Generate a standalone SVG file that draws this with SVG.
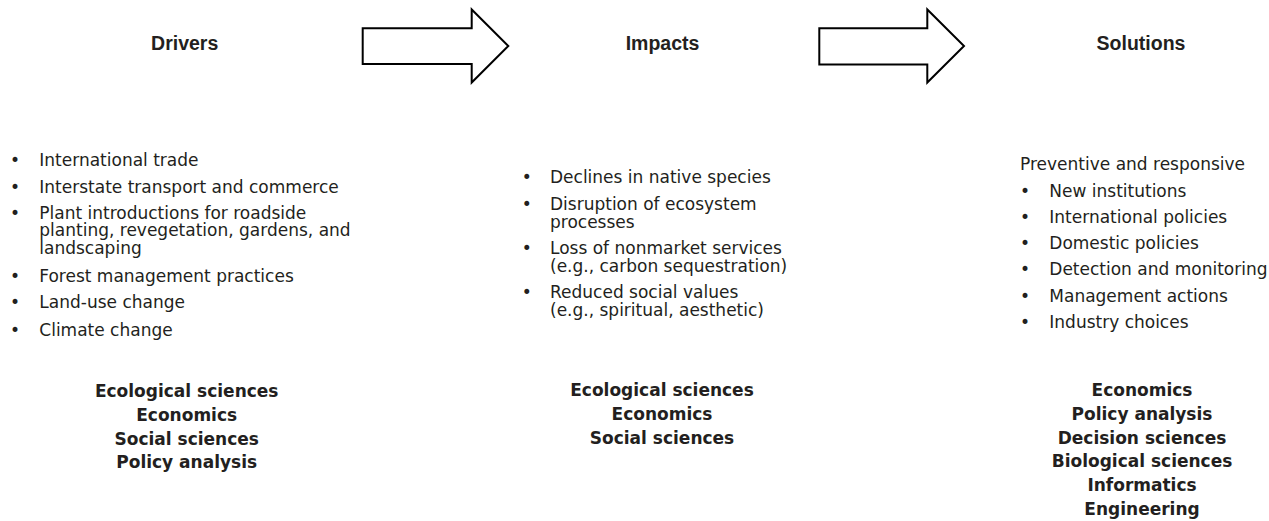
<svg xmlns="http://www.w3.org/2000/svg" width="1269" height="521" viewBox="0 0 1269 521">
<style>
  .title { font-family: "Liberation Sans", Arial, sans-serif; font-weight: bold; font-size: 19.5px; fill: #231f20; text-anchor: middle; }
  .item { font-family: "DejaVu Sans", Verdana, sans-serif; font-size: 17px; fill: #231f20; }
  .bul { font-family: "DejaVu Sans", Verdana, sans-serif; font-size: 17px; fill: #231f20; text-anchor: middle; }
  .disc { font-family: "DejaVu Sans", Verdana, sans-serif; font-weight: bold; font-size: 17px; fill: #231f20; text-anchor: middle; }
  .arrow { fill: #ffffff; stroke: #000000; stroke-width: 2; stroke-linejoin: miter; }
</style>
<rect width="1269" height="521" fill="#ffffff"/>
<g id="connectors">
  <polygon class="arrow" points="362.7,28.3 471.7,28.3 471.7,9.5 508.3,46 471.7,82.5 471.7,64 362.7,64"/>
  <polygon class="arrow" points="819.3,28.3 927.3,28.3 927.3,9.5 964,46 927.3,82.5 927.3,64.5 819.3,64.5"/>
</g>
<g id="drivers">
  <text class="title" x="184.7" y="50">Drivers</text>
  <g class="list">
    <text class="bul" x="15" y="166">•</text><text class="item" x="39.3" y="166">International trade</text>
    <text class="bul" x="15" y="192.7">•</text><text class="item" x="39.3" y="192.7">Interstate transport and commerce</text>
    <text class="bul" x="15" y="219.3">•</text><text class="item" x="39.3" y="219.3">Plant introductions for roadside<tspan x="39.3" dy="17.1">planting, revegetation, gardens, and</tspan><tspan x="39.3" dy="17.1">landscaping</tspan></text>
    <text class="bul" x="15" y="281.7">•</text><text class="item" x="39.3" y="281.7">Forest management practices</text>
    <text class="bul" x="15" y="308.3">•</text><text class="item" x="39.3" y="308.3">Land-use change</text>
    <text class="bul" x="15" y="335.7">•</text><text class="item" x="39.3" y="335.7">Climate change</text>
  </g>
  <text class="disc" x="186.7" y="396.7">Ecological sciences</text>
  <text class="disc" x="186.7" y="420.7">Economics</text>
  <text class="disc" x="186.7" y="444.7">Social sciences</text>
  <text class="disc" x="186.7" y="468.3">Policy analysis</text>
</g>
<g id="impacts">
  <text class="title" x="662.5" y="50">Impacts</text>
  <g class="list">
    <text class="bul" x="526.7" y="182.7">•</text><text class="item" x="550" y="182.7">Declines in native species</text>
    <text class="bul" x="526.7" y="210">•</text><text class="item" x="550" y="210">Disruption of ecosystem<tspan x="550" dy="17.5">processes</tspan></text>
    <text class="bul" x="526.7" y="254.3">•</text><text class="item" x="550" y="254.3">Loss of nonmarket services<tspan x="550" dy="17.4">(e.g., carbon sequestration)</tspan></text>
    <text class="bul" x="526.7" y="298.3">•</text><text class="item" x="550" y="298.3">Reduced social values<tspan x="550" dy="17.5">(e.g., spiritual, aesthetic)</tspan></text>
  </g>
  <text class="disc" x="662" y="396.3">Ecological sciences</text>
  <text class="disc" x="662" y="420">Economics</text>
  <text class="disc" x="662" y="443.5">Social sciences</text>
</g>
<g id="solutions">
  <text class="title" x="1141" y="50">Solutions</text>
  <text class="item" x="1020" y="170">Preventive and responsive</text>
  <g class="list">
    <text class="bul" x="1025" y="196.7">•</text><text class="item" x="1049.3" y="196.7">New institutions</text>
    <text class="bul" x="1025" y="222.9">•</text><text class="item" x="1049.3" y="222.9">International policies</text>
    <text class="bul" x="1025" y="249.3">•</text><text class="item" x="1049.3" y="249.3">Domestic policies</text>
    <text class="bul" x="1025" y="275.3">•</text><text class="item" x="1049.3" y="275.3">Detection and monitoring</text>
    <text class="bul" x="1025" y="301.7">•</text><text class="item" x="1049.3" y="301.7">Management actions</text>
    <text class="bul" x="1025" y="328.3">•</text><text class="item" x="1049.3" y="328.3">Industry choices</text>
  </g>
  <text class="disc" x="1142" y="396.3">Economics</text>
  <text class="disc" x="1142" y="420">Policy analysis</text>
  <text class="disc" x="1142" y="443.5">Decision sciences</text>
  <text class="disc" x="1142" y="467">Biological sciences</text>
  <text class="disc" x="1142" y="490.8">Informatics</text>
  <text class="disc" x="1142" y="514.8">Engineering</text>
</g>
</svg>
